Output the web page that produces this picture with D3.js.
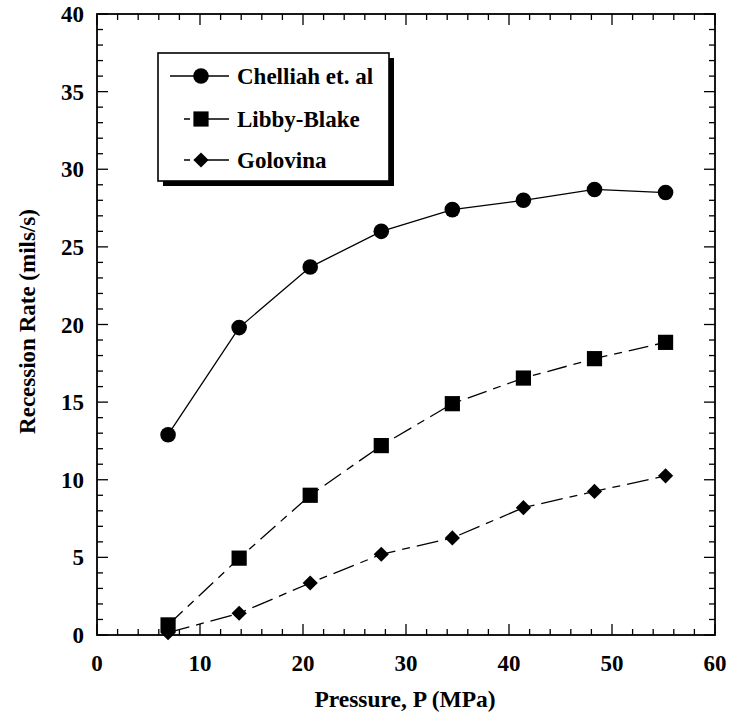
<!DOCTYPE html>
<html>
<head>
<meta charset="utf-8">
<script src="https://cdn.jsdelivr.net/npm/d3@7"></script>
<style>
  html, body { margin: 0; padding: 0; background: #fff; }
  svg { display: block; }
  text { font-family: "Liberation Serif", "Times New Roman", serif; font-weight: bold; fill: #000; }
</style>
</head>
<body>
<svg id="chart" width="730" height="719"></svg>
<script>
// Pressure in MPa
const pressure = [6.9, 13.8, 20.7, 27.6, 34.5, 41.4, 48.3, 55.2];
// Recession rate (mils/s) for each model
const chelliah   = [12.9, 19.8, 23.7, 26.0, 27.4, 28.0, 28.7, 28.5];
const libbyBlake = [0.65, 4.95, 9.0, 12.2, 14.9, 16.55, 17.8, 18.85];
const golovina   = [0.15, 1.4, 3.35, 5.2, 6.25, 8.2, 9.25, 10.25];

const seriesNames = ["Chelliah et. al", "Libby-Blake", "Golovina"];
const xTicks = [0, 10, 20, 30, 40, 50, 60];
const yTicks = [0, 5, 10, 15, 20, 25, 30, 35, 40];

const svg = d3.select("#chart");
const plot = { left: 97, right: 715, top: 14, bottom: 635 };

const x = d3.scaleLinear().domain([0, 60]).range([plot.left, plot.right]);
const y = d3.scaleLinear().domain([0, 40]).range([plot.bottom, plot.top]);

const series = [
  { name: seriesNames[0], values: chelliah,   marker: "circle",  dash: null },
  { name: seriesNames[1], values: libbyBlake, marker: "square",  dash: "20,7,8,7" },
  { name: seriesNames[2], values: golovina,   marker: "diamond", dash: "22,7,8,7" }
];

function drawMarker(g, type, cx, cy) {
  if (type === "circle") {
    g.append("circle").attr("cx", cx).attr("cy", cy).attr("r", 7.8).attr("fill", "#000");
  } else if (type === "square") {
    g.append("rect").attr("x", cx - 7.6).attr("y", cy - 7.6).attr("width", 15.2).attr("height", 15.2).attr("fill", "#000");
  } else {
    const s = 7.6;
    g.append("path")
      .attr("d", `M${cx},${cy - s}L${cx + s},${cy}L${cx},${cy + s}L${cx - s},${cy}Z`)
      .attr("fill", "#000");
  }
}

// Minor and major ticks on all four sides, pointing inward
const ticksG = svg.append("g").attr("stroke", "#000").attr("stroke-width", 1.3);
const xMinor = d3.range(0, 60.01, 2);
const yMinor = d3.range(0, 40.01, 1);
xMinor.forEach(v => {
  const len = (v % 10 === 0) ? 11 : 6;
  ticksG.append("line").attr("x1", x(v)).attr("x2", x(v)).attr("y1", plot.bottom).attr("y2", plot.bottom - len);
  ticksG.append("line").attr("x1", x(v)).attr("x2", x(v)).attr("y1", plot.top).attr("y2", plot.top + len);
});
yMinor.forEach(v => {
  const len = (v % 5 === 0) ? 11 : 6;
  ticksG.append("line").attr("y1", y(v)).attr("y2", y(v)).attr("x1", plot.left).attr("x2", plot.left + len);
  ticksG.append("line").attr("y1", y(v)).attr("y2", y(v)).attr("x1", plot.right).attr("x2", plot.right - len);
});

// Plot frame
svg.append("rect")
  .attr("x", plot.left).attr("y", plot.top)
  .attr("width", plot.right - plot.left).attr("height", plot.bottom - plot.top)
  .attr("fill", "none").attr("stroke", "#000").attr("stroke-width", 1.8);

// Tick labels
svg.append("g").selectAll("text").data(xTicks).join("text")
  .attr("x", d => x(d)).attr("y", 671)
  .attr("text-anchor", "middle").attr("font-size", 23)
  .text(d => d);
svg.append("g").selectAll("text").data(yTicks).join("text")
  .attr("x", 84).attr("y", d => y(d)).attr("dy", "0.35em")
  .attr("text-anchor", "end").attr("font-size", 23)
  .text(d => d);

// Axis titles
svg.append("text")
  .attr("x", (plot.left + plot.right) / 2 - 1).attr("y", 707)
  .attr("text-anchor", "middle").attr("font-size", 23.5)
  .text("Pressure, P (MPa)");
svg.append("text")
  .attr("transform", `translate(35, ${(plot.top + plot.bottom) / 2 - 3}) rotate(-90)`)
  .attr("text-anchor", "middle").attr("font-size", 23)
  .text("Recession Rate (mils/s)");

// Series lines and markers
const line = d3.line().x(d => x(d[0])).y(d => y(d[1]));
series.forEach(s => {
  const pts = pressure.map((p, i) => [p, s.values[i]]);
  svg.append("path")
    .attr("d", line(pts))
    .attr("fill", "none").attr("stroke", "#000").attr("stroke-width", 1.3)
    .attr("stroke-dasharray", s.dash);
  const mg = svg.append("g");
  pts.forEach(p => drawMarker(mg, s.marker, x(p[0]), y(p[1])));
});

// Legend with drop shadow
const legend = { x: 158, y: 53, w: 231, h: 128 };
const lg = svg.append("g");
lg.append("rect")
  .attr("x", legend.x + 5).attr("y", legend.y + 5)
  .attr("width", legend.w).attr("height", legend.h)
  .attr("fill", "#000");
lg.append("rect")
  .attr("x", legend.x).attr("y", legend.y)
  .attr("width", legend.w).attr("height", legend.h)
  .attr("fill", "#fff").attr("stroke", "#000").attr("stroke-width", 1.6);

const rowY = [76, 119, 160];
const lineStart = [170, 184, 184];
series.forEach((s, i) => {
  lg.append("line")
    .attr("x1", lineStart[i]).attr("x2", 229)
    .attr("y1", rowY[i]).attr("y2", rowY[i])
    .attr("stroke", "#000").attr("stroke-width", 1.3)
    .attr("stroke-dasharray", s.dash ? "6,4,40" : null);
  drawMarker(lg, s.marker, 201, rowY[i]);
  lg.append("text")
    .attr("x", 237).attr("y", rowY[i]).attr("dy", "0.35em")
    .attr("font-size", 23)
    .text(s.name);
});
</script>
</body>
</html>
